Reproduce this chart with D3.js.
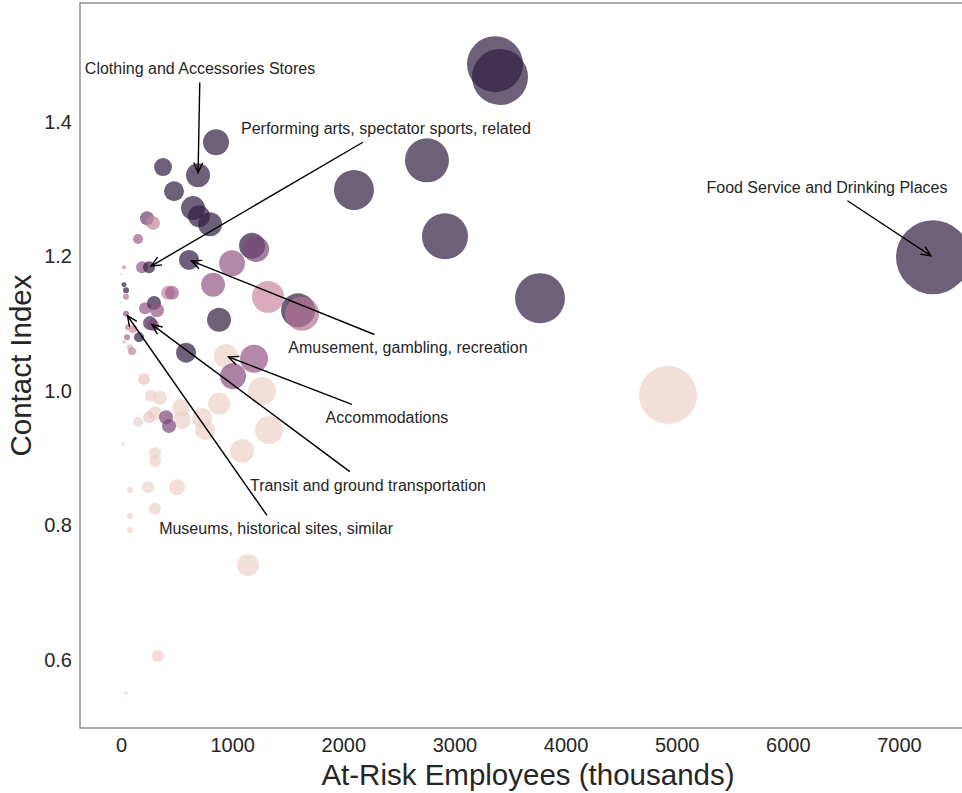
<!DOCTYPE html>
<html>
<head>
<meta charset="utf-8">
<script src="https://cdn.jsdelivr.net/npm/d3@7"></script>
<style>
  html, body { margin: 0; padding: 0; background: #fff; }
  svg { display: block; font-family: "Liberation Sans", Arial, sans-serif; }
</style>
</head>
<body>
<svg id="chart" width="962" height="793"></svg>
<script>
// At-risk employees (thousands) per industry
const atRisk = [3365, 3410, 2753, 2096, 2915, 3770, 4922, 7306, 855, 378,
  693, 477, 648, 702, 801, 234, 288, 153, 27, 189,
  252, 612, 999, 1179, 1215, 828, 1323, 1593, 1629, 882,
  0, 27, 45, 45, 0, 45, 216, 297, 324, 423,
  459, 261, 288, 63, 108, 54, 162, 27, 81, 99,
  585, 945, 1197, 1008, 1269, 207, 270, 351, 882, 540,
  549, 306, 252, 153, 405, 432, 729, 756, 1332, 1089,
  18, 306, 306, 81, 243, 504, 306, 81, 81, 1143,
  333, 45];
// Contact index per industry
const contact = [1.486, 1.467, 1.343, 1.299, 1.230, 1.138, 0.994, 1.199, 1.370, 1.333,
  1.321, 1.297, 1.272, 1.260, 1.248, 1.257, 1.250, 1.226, 1.184, 1.184,
  1.184, 1.195, 1.190, 1.216, 1.211, 1.158, 1.140, 1.120, 1.115, 1.106,
  1.174, 1.158, 1.150, 1.140, 1.132, 1.115, 1.123, 1.131, 1.120, 1.146,
  1.146, 1.101, 1.098, 1.095, 1.092, 1.080, 1.080, 1.073, 1.065, 1.059,
  1.057, 1.052, 1.048, 1.022, 1.000, 1.018, 0.993, 0.990, 0.981, 0.975,
  0.957, 0.967, 0.961, 0.954, 0.961, 0.948, 0.960, 0.942, 0.942, 0.911,
  0.921, 0.908, 0.896, 0.853, 0.857, 0.857, 0.825, 0.814, 0.793, 0.741,
  0.606, 0.551];
// Bubble size variable (total employment, thousands)
const bubble = [7200, 7200, 4440, 3670, 4860, 5740, 7720, 12570, 1550, 740,
  1320, 920, 1320, 1110, 1320, 450, 450, 230, 37, 330,
  330, 920, 1550, 1550, 1550, 1320, 2350, 2650, 2650, 1320,
  9, 57, 83, 83, 9, 83, 330, 450, 450, 450,
  450, 450, 330, 83, 147, 83, 230, 37, 83, 147,
  920, 1320, 1800, 1550, 1800, 330, 330, 450, 1110, 740,
  740, 450, 330, 230, 450, 450, 920, 920, 1800, 1320,
  21, 330, 330, 83, 330, 590, 330, 83, 83, 1110,
  330, 37];
// Hue variable (0 = lightest, 1 = darkest)
const shade = [1, 1, 1, 1, 1, 1, 0, 1, 1, 1,
  1, 1, 1, 1, 1, 0.75, 0.35, 0.55, 0.35, 0.6,
  1, 1, 0.6, 1, 0.7, 0.6, 0.33, 1, 0.45, 1,
  0.1, 1, 1, 0.45, 0.1, 0.6, 0.6, 1, 0.6, 0.35,
  0.55, 0.9, 0.7, 0.35, 0.3, 0.5, 1, 0.1, 0.15, 0.35,
  1, 0, 0.6, 0.65, 0, 0.05, 0, 0, 0, 0,
  0, 0, 0.05, 0, 0.7, 0.7, 0, 0, 0, 0,
  0.05, 0, 0, 0, 0, 0, 0, 0, 0, 0,
  0, 0];

// Annotated industries
const noteLabels = ["Clothing and Accessories Stores", "Performing arts, spectator sports, related",
  "Food Service and Drinking Places", "Amusement, gambling, recreation", "Accommodations",
  "Transit and ground transportation", "Museums, historical sites, similar"];
const noteTarget = [10, 20, 7, 21, 51, 41, 35];
const noteTextX = [711, 2384, 6352, 2582, 2393, 2222, 1395];
const noteTextY = [1.479, 1.390, 1.303, 1.064, 0.960, 0.860, 0.795];

const xTicks = [0, 1000, 2000, 3000, 4000, 5000, 6000, 7000];
const yTicks = [0.6, 0.8, 1.0, 1.2, 1.4];

const svg = d3.select("#chart");
const plotL = 80, plotR = 965, plotT = 3, plotB = 728;
const textColor = "#262626";

const x = d3.scaleLinear().domain([-369, 7594]).range([plotL, plotR]);
const y = d3.scaleLinear().domain([0.4989, 1.577]).range([plotB, plotT]);
const r = d3.scaleSqrt().domain([0, 12570]).range([0, 37]);

// seaborn-style cubehelix palette (start 0, rot .4, light .85, dark .15)
function helix(v) {
  const a = 0.8 * v * (1 - v) / 2;
  const phi = 2 * Math.PI * (0.4 * v);
  const c = Math.cos(phi), s = Math.sin(phi);
  const cl = t => Math.max(0, Math.min(1, t));
  const rr = cl(v + a * (-0.14861 * c + 1.78277 * s));
  const gg = cl(v + a * (-0.29227 * c - 0.90649 * s));
  const bb = cl(v + a * (1.97294 * c));
  return d3.rgb(rr * 255, gg * 255, bb * 255).formatHex();
}
const color = d3.scaleSequential(t => helix(0.85 - 0.7 * t)).domain([0, 1]);

svg.append("clipPath").attr("id", "plotclip")
  .append("rect").attr("x", plotL).attr("y", plotT).attr("width", plotR - plotL).attr("height", plotB - plotT);

const pts = atRisk.map((v, i) => ({ x: v, y: contact[i], s: bubble[i], h: shade[i] }));

svg.append("g").attr("clip-path", "url(#plotclip)")
  .selectAll("circle").data(pts).join("circle")
  .attr("cx", d => x(d.x))
  .attr("cy", d => y(d.y))
  .attr("r", d => r(d.s))
  .attr("fill", d => color(d.h))
  .attr("fill-opacity", 0.7);

svg.append("rect")
  .attr("x", plotL).attr("y", plotT).attr("width", plotR - plotL).attr("height", plotB - plotT)
  .attr("fill", "none").attr("stroke", "#7f7f7f").attr("stroke-width", 1.3);

// axes (labels only, no tick marks)
const xAxis = svg.append("g").attr("transform", `translate(0,${plotB})`)
  .call(d3.axisBottom(x).tickValues(xTicks).tickFormat(d3.format("d")).tickSize(0).tickPadding(10));
const yAxis = svg.append("g").attr("transform", `translate(${plotL},0)`)
  .call(d3.axisLeft(y).tickValues(yTicks).tickFormat(d3.format(".1f")).tickSize(0).tickPadding(8));
[xAxis, yAxis].forEach(g => {
  g.select(".domain").remove();
  g.selectAll("text").attr("font-size", "20px").attr("fill", textColor)
    .attr("font-family", "Liberation Sans, Arial, sans-serif");
});

svg.append("text")
  .attr("x", (plotL + 962) / 2 + 7).attr("y", 785)
  .attr("text-anchor", "middle").attr("font-size", "29.5px").attr("fill", textColor)
  .text("At-Risk Employees (thousands)");
svg.append("text")
  .attr("transform", `translate(31,${(plotT + plotB) / 2}) rotate(-90)`)
  .attr("text-anchor", "middle").attr("font-size", "29.5px").attr("fill", textColor)
  .text("Contact Index");

// annotations with arrows
const notes = svg.append("g");
noteLabels.forEach((label, i) => {
  const tx = x(noteTextX[i]), ty = y(noteTextY[i]);
  const t = notes.append("text")
    .attr("x", tx).attr("y", ty)
    .attr("text-anchor", "middle").attr("dominant-baseline", "central")
    .attr("font-size", "16px").attr("fill", textColor).text(label);
  const bb = t.node().getBBox();
  const pad = 5;
  const x0 = bb.x - pad, x1 = bb.x + bb.width + pad, y0 = bb.y - pad, y1 = bb.y + bb.height + pad;
  const cx = bb.x + bb.width / 2, cy = bb.y + bb.height / 2;
  const p = pts[noteTarget[i]];
  const px = x(p.x), py = y(p.y);
  const dx = px - cx, dy = py - cy;
  // leave the text box along the line to the target
  let tt = Infinity;
  if (dx > 0) tt = Math.min(tt, (x1 - cx) / dx);
  if (dx < 0) tt = Math.min(tt, (x0 - cx) / dx);
  if (dy > 0) tt = Math.min(tt, (y1 - cy) / dy);
  if (dy < 0) tt = Math.min(tt, (y0 - cy) / dy);
  const sx = cx + dx * tt, sy = cy + dy * tt;
  const len = Math.hypot(px - sx, py - sy);
  const ux = (px - sx) / len, uy = (py - sy) / len;
  const ex = px - ux * 2.5, ey = py - uy * 2.5;
  const hl = 10, hw = 4.5;
  const bx = ex - ux * hl, by = ey - uy * hl;
  notes.append("path")
    .attr("d", `M${sx},${sy}L${ex},${ey}M${bx - uy * hw},${by + ux * hw}L${ex},${ey}L${bx + uy * hw},${by - ux * hw}`)
    .attr("fill", "none").attr("stroke", "#000").attr("stroke-width", 1.4);
});
</script>
</body>
</html>
